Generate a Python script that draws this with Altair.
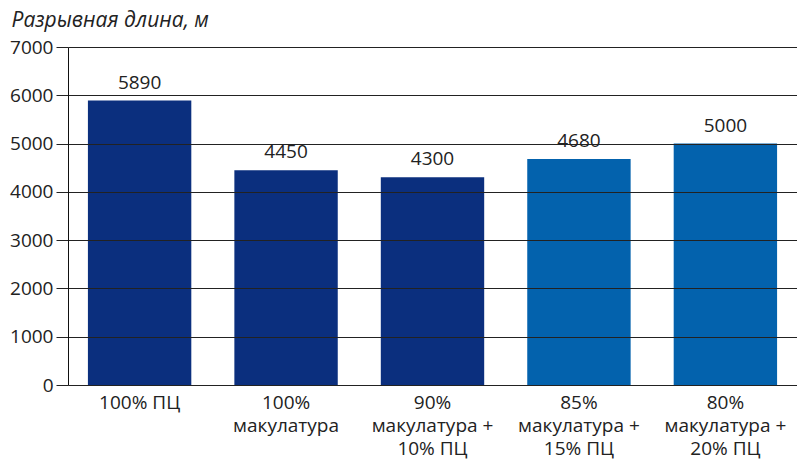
import altair as alt
import pandas as pd

categories = ["100% ПЦ", "100%\nмакулатура", "90%\nмакулатура +\n10% ПЦ",
              "85%\nмакулатура +\n15% ПЦ", "80%\nмакулатура +\n20% ПЦ"]
values = [5890, 4450, 4300, 4680, 5000]
groups = ["dark", "dark", "dark", "light", "light"]
y_ticks = [0, 1000, 2000, 3000, 4000, 5000, 6000, 7000]

df = pd.DataFrame({"cat": categories, "val": values, "grp": groups})

FONT = "Open Sans"

x = alt.X("cat:N", sort=categories, title=None,
          scale=alt.Scale(paddingInner=0.294, paddingOuter=0.136),
          axis=alt.Axis(labelAngle=0, labelExpr="split(datum.label, '\\n')",
                        labelFontSize=19, labelFont=FONT, labelColor="#222",
                        labelLineHeight=23, labelPadding=8, ticks=False,
                        domain=False, labelBaseline="top"))

bars = alt.Chart(df).mark_bar().encode(
    x=x,
    y=alt.Y("val:Q", title=None,
            scale=alt.Scale(domain=[0, 7000], nice=False),
            axis=alt.Axis(values=y_ticks, format="d", grid=True, gridColor="#222",
                          gridWidth=1, tickSize=12, tickColor="#222",
                          domainColor="#111", labelFontSize=19, labelFont=FONT,
                          labelColor="#222", labelPadding=3, zindex=1)),
    color=alt.Color("grp:N", legend=None,
                    scale=alt.Scale(domain=["dark", "light"],
                                    range=["#0b2f7e", "#0362ad"])),
)

text = alt.Chart(df).mark_text(baseline="bottom", dy=-8, fontSize=19,
                               font=FONT, color="#222").encode(
    x=alt.X("cat:N", sort=categories),
    y="val:Q",
    text="val:Q",
)

chart = (bars + text).properties(
    width=729, height=338,
    padding={"left": 60, "top": 39, "right": 0, "bottom": 77},
    autosize=alt.AutoSizeParams(type="none"),
    title=alt.TitleParams("Разрывная длина, м", anchor="start", dx=2,
                          offset=7, fontSize=21, font=FONT, fontStyle="italic",
                          fontWeight="normal", color="#222"),
).configure_view(stroke=None)

chart.save("out.html", embed_options={"renderer": "svg", "actions": False})
